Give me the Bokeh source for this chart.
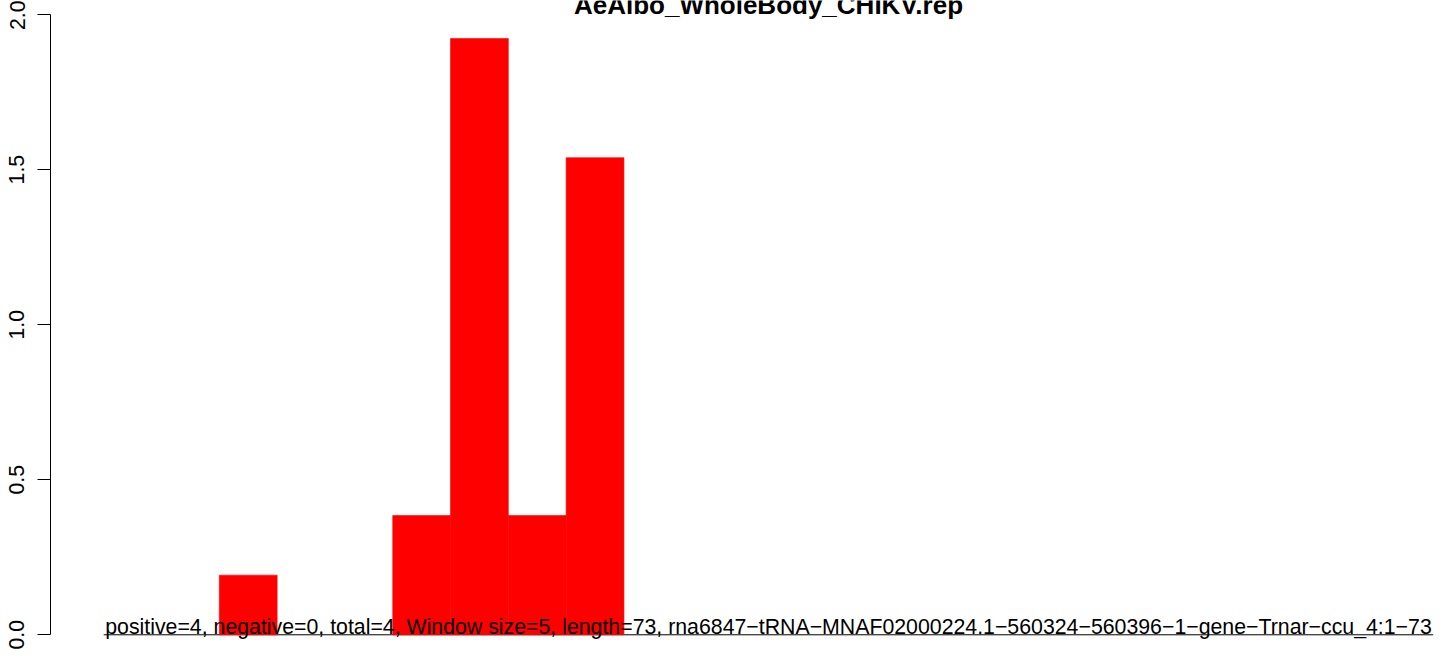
from bokeh.plotting import figure
from bokeh.models import Range1d, FixedTicker, Label, ColumnDataSource
from bokeh.embed import file_html
from bokeh.resources import INLINE

# ---- data ----
title_text = "AeAlbo_WholeBody_CHIKV.rep"
window_index = list(range(15))
window_values = [0, 0, 0, 0.1923, 0, 0, 0.3846, 1.9231, 0.3846, 1.5385, 0, 0, 0, 0, 0]
y_ticks = [0.0, 0.5, 1.0, 1.5, 2.0]
y_tick_labels = ["0.0", "0.5", "1.0", "1.5", "2.0"]
info_text = ("positive=4, negative=0, total=4, Window size=5, length=73, "
             "rna6847\u2212tRNA\u2212MNAF02000224.1\u2212560324\u2212560396\u22121\u2212gene\u2212Trnar\u2212ccu_4:1\u221273")

FONT = "Liberation Sans"

# only windows with a non-zero value are drawn
nz = [(i, v) for i, v in zip(window_index, window_values) if v > 0]
src = ColumnDataSource(dict(x=[i + 0.5 for i, _ in nz], top=[v for _, v in nz]))

p = figure(width=1444, height=656, output_backend="svg", toolbar_location=None,
           x_range=Range1d(0.0796, 24.195), y_range=Range1d(-0.07, 2.0455),
           min_border_left=50, min_border_right=0, min_border_top=0, min_border_bottom=0)
p.outline_line_color = None
p.xgrid.visible = False
p.ygrid.visible = False
p.xaxis.visible = False
p.background_fill_color = "white"
p.border_fill_color = "white"

# underline segment at baseline
p.segment(x0=[1], y0=[0], x1=[24], y1=[0], line_color="black", line_width=1)

p.vbar(x="x", width=1, top="top", bottom=0, source=src,
       fill_color="#FF0000", line_color="#FF0000", line_width=0.6)

ya = p.yaxis[0]
ya.bounds = (0, 2)
ya.ticker = FixedTicker(ticks=y_ticks)
ya.major_label_overrides = {t: l for t, l in zip(y_ticks, y_tick_labels)}
ya.major_label_orientation = "parallel"
ya.major_tick_out = 13
ya.major_tick_in = 0
ya.minor_tick_out = 0
ya.minor_tick_in = 0
ya.major_label_standoff = 13
ya.major_label_text_font = FONT
ya.major_label_text_font_size = "21.3px"
ya.major_label_text_color = "black"
ya.axis_line_color = "black"
ya.major_tick_line_color = "black"
ya.axis_line_width = 1
ya.major_tick_line_width = 1

p.add_layout(Label(x=12.5, y=2.0035, y_offset=9, text=title_text, text_align="center",
                   text_baseline="alphabetic", text_font=FONT, text_font_size="26px",
                   text_font_style="bold", text_color="black"))
p.add_layout(Label(x=12.5, y=0, y_offset=7.4, text=info_text, text_align="center",
                   text_baseline="alphabetic", text_font=FONT, text_font_size="21.3px",
                   text_color="black"))

open("out.html", "w").write(file_html(p, INLINE))
